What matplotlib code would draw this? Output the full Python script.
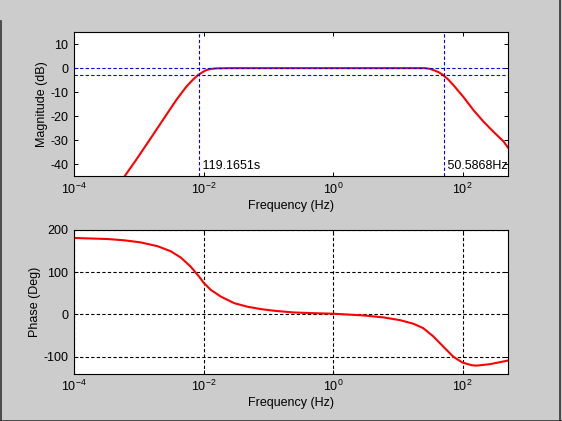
import numpy as np
import matplotlib
matplotlib.use("Agg")
import matplotlib.pyplot as plt
from matplotlib.lines import Line2D
from matplotlib.ticker import LogFormatterMathtext, NullLocator

plt.rcParams['font.family'] = ['Liberation Sans', 'DejaVu Sans']
plt.rcParams['mathtext.fontset'] = 'custom'
plt.rcParams['mathtext.rm'] = 'Liberation Sans'
plt.rcParams['mathtext.it'] = 'Liberation Sans:italic'
plt.rcParams['mathtext.default'] = 'regular'
plt.rcParams['axes.unicode_minus'] = False

# magnitude curve (Hz, dB)
mag_freq = [6.0e-4, 9.1e-4, 1.47e-3, 2.36e-3, 3.8e-3, 5.42e-3, 6.9e-3, 8.2e-3,
            9.6e-3, 1.1e-2, 1.3e-2, 1.58e-2, 2.5e-2, 1.0e-1, 1.0, 10.0, 26.0,
            31.0, 35.2, 42.0, 50.1, 60.0, 71.6, 102.0, 146.0, 209.0, 297.0,
            425.0, 500.0]
mag_db = [-45.0, -38.1, -29.8, -21.5, -13.2, -7.7, -4.7, -2.9,
          -1.7, -0.8, -0.35, -0.1, 0.0, 0.0, 0.0, 0.0, 0.0,
          -0.3, -0.8, -1.6, -2.9, -4.8, -7.0, -11.9, -17.4, -22.2, -26.4,
          -30.4, -33.0]

# phase curve (Hz, deg)
ph_freq = [1.0e-4, 3.27e-4, 5.93e-4, 1.07e-3, 1.95e-3, 3.12e-3, 4.47e-3, 6.35e-3,
           8.55e-3, 1.0e-2, 1.29e-2, 1.85e-2, 2.97e-2, 4.79e-2, 7.67e-2, 0.123,
           0.237, 0.463, 1.0, 2.91, 5.93, 10.7, 17.3, 24.6, 35.2, 50.1, 71.6,
           98.6, 137.0, 164.0, 264.0, 500.0]
ph_deg = [180.5, 178, 175, 170, 161, 149, 134, 112.5,
          89, 75, 58, 42, 26.5, 18, 12.5, 8.6,
          4.7, 3, 1.6, -2.4, -7, -13.5, -22, -32.5, -52, -76, -100,
          -113.5, -120, -121, -117.5, -109]

tau_s = 119.1651      # high-pass time constant, s
f_low = 1.0 / tau_s
f_high = 50.5868      # low-pass corner, Hz
ref_db = [0, -3]

fig = plt.figure(figsize=(5.62, 4.21), dpi=100, facecolor='#cccccc')
ax1 = fig.add_axes([0.1317, 0.5808, 0.7722, 0.3432])
ax2 = fig.add_axes([0.1317, 0.1124, 0.7722, 0.3420])

dash = (0, (3, 2))
fs = 9

for ax in (ax1, ax2):
    ax.set_xscale('log')
    ax.set_xlim(1e-4, 500)
    ax.set_xticks([1e-4, 1e-2, 1, 1e2])
    ax.xaxis.set_major_formatter(LogFormatterMathtext())
    ax.xaxis.set_minor_locator(NullLocator())
    ax.tick_params(direction='in', length=3.2, width=0.7, top=True, right=True,
                   labelsize=fs, pad=4)
    for s in ax.spines.values():
        s.set_linewidth(0.8)
    ax.set_xlabel('Frequency (Hz)', fontsize=fs, labelpad=2)

# magnitude
ax1.plot(mag_freq, mag_db, color='red', lw=1.5)
for y in ref_db:
    ax1.axhline(y, color='blue', lw=0.8, ls=dash)
ax1.axvline(f_low, color='blue', lw=0.8, ls=dash)
ax1.axvline(f_high, color='blue', lw=0.8, ls=dash)
ax1.text(f_low, -40.5, ' %.4fs' % tau_s, fontsize=fs, va='center', ha='left')
ax1.text(f_high, -40.5, ' %.4fHz' % f_high, fontsize=fs, va='center', ha='left')
ax1.set_ylim(-45, 15)
ax1.set_yticks([-40, -30, -20, -10, 0, 10])
ax1.set_ylabel('Magnitude (dB)', fontsize=fs, labelpad=2)

# phase
ax2.plot(ph_freq, ph_deg, color='red', lw=1.5)
ax2.set_ylim(-140, 200)
ax2.set_yticks([-100, 0, 100, 200])
ax2.grid(True, color='black', lw=0.8, ls=dash)
ax2.set_ylabel('Phase (Deg)', fontsize=fs, labelpad=2)

# window frame edges
for xs, ys in (([0.001, 0.001], [0, 0.95]), ([0, 1], [0.001, 0.001]), ([0.997, 0.997], [0, 1])):
    fig.add_artist(Line2D(xs, ys, color='#333333', lw=1.2, transform=fig.transFigure))

fig.savefig('out.png', dpi=100, facecolor=fig.get_facecolor())
